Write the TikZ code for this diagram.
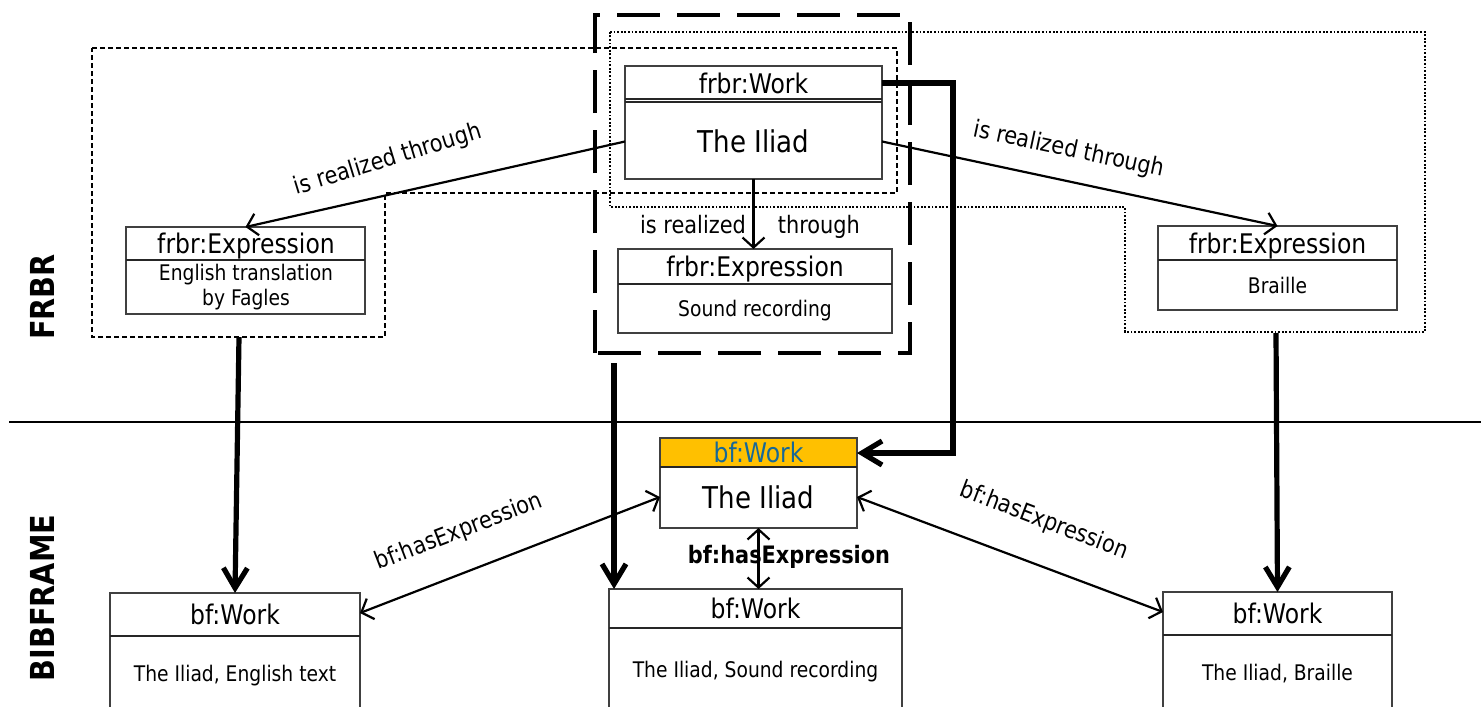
\documentclass[tikz,border=0pt]{standalone}
\usepackage{fontspec}
\setmainfont{DejaVu Sans}[FakeStretch=0.87]
\usetikzlibrary{arrows.meta}
\definecolor{hdrgold}{RGB}{255,192,0}
\definecolor{hdrblue}{RGB}{22,104,152}
\begin{document}
\begin{tikzpicture}[x=1pt,y=-1pt,
  ubox/.style={draw=black!75, line width=1.3pt, fill=white, rectangle, inner sep=0pt, outer sep=0pt, anchor=north west},
  divline/.style={draw=black!85, line width=1.3pt},
  hdrtxt/.style={font=\fontsize{27}{30}\selectfont, inner sep=0pt, text height=19.5pt, text depth=0pt},
  bigtxt/.style={font=\fontsize{30}{34}\selectfont, inner sep=0pt, text height=22pt, text depth=0pt},
  smalltxt/.style={font=\fontsize{21.5}{25}\selectfont, inner sep=0pt, text height=15.6pt, text depth=0pt},
  lbltxt/.style={font=\fontsize{24}{28}\selectfont, inner sep=0pt},
  sidetxt/.style={font=\fontsize{33}{36}\selectfont\bfseries, inner sep=0pt, rotate=90},
  thinarrow/.style={line width=2.2pt, -{Straight Barb[length=10pt,width=22pt]}},
  dblarrow/.style={line width=2.2pt, {Straight Barb[length=10pt,width=22pt]}-{Straight Barb[length=10pt,width=22pt]}},
  bigarrow/.style={line width=5.2pt, -{Straight Barb[length=20pt,width=24pt]}},
  smalldash/.style={line width=2pt, dash pattern=on 5pt off 3pt},
  dotbox/.style={line width=2.2pt, dash pattern=on 1.8pt off 1.8pt},
  bigdash/.style={line width=4.5pt, dash pattern=on 43pt off 17pt}
]
\useasboundingbox (0,0) rectangle (1481,707);
\clip (0,0) rectangle (1481,707);

% separator and side labels
\draw[line width=2pt] (9,422) -- (1481,422);
\node[sidetxt] (frbrlbl) at (42,297) {FRBR};
\node[sidetxt] (bflbl) at (42,598) {BIBFRAME};

% containers
\draw[smalldash] (92,48) -- (897,48) -- (897,193) -- (385,193) -- (385,337) -- (92,337) -- cycle;
\draw[dotbox] (610,32) -- (1425,32) -- (1425,332) -- (1125,332) -- (1125,207) -- (610,207) -- cycle;
\draw[bigdash] (595,353) -- (595,15) -- (910,15) -- (910,353) -- cycle;

% FRBR boxes
\node[ubox, minimum width=257pt, minimum height=113pt] (fw) at (625,66) {};
\draw[divline] ([yshift=-33pt]fw.north west) -- ([yshift=-33pt]fw.north east);
\draw[divline] ([yshift=-36pt]fw.north west) -- ([yshift=-36pt]fw.north east);
\node[hdrtxt] (fwh) at (753.5,84) {frbr:Work};
\node[bigtxt] (fwb) at (753.5,141) {The Iliad};

\node[ubox, minimum width=239pt, minimum height=87pt] (eL) at (126,227) {};
\draw[divline] ([yshift=-33pt]eL.north west) -- ([yshift=-33pt]eL.north east);
\node[hdrtxt] (eLh) at (246,244) {frbr:Expression};
\node[font=\fontsize{21.5}{25}\selectfont, inner sep=0pt, align=center] (eLb) at (246,287) {English translation\\by Fagles};

\node[ubox, minimum width=274pt, minimum height=84pt] (eM) at (618,249) {};
\draw[divline] ([yshift=-35pt]eM.north west) -- ([yshift=-35pt]eM.north east);
\node[hdrtxt] (eMh) at (755,267) {frbr:Expression};
\node[smalltxt] (eMb) at (755,309) {Sound recording};

\node[ubox, minimum width=239pt, minimum height=84pt] (eR) at (1158,226) {};
\draw[divline] ([yshift=-34pt]eR.north west) -- ([yshift=-34pt]eR.north east);
\node[hdrtxt] (eRh) at (1277.5,244) {frbr:Expression};
\node[smalltxt] (eRb) at (1277.5,286) {Braille};

% BIBFRAME boxes
\node[ubox, minimum width=197pt, minimum height=90pt,
  path picture={\fill[hdrgold] (path picture bounding box.north west) rectangle ([yshift=-29pt]path picture bounding box.north east);}] (bw) at (660,438) {};
\draw[divline] ([yshift=-29pt]bw.north west) -- ([yshift=-29pt]bw.north east);
\node[hdrtxt, text=hdrblue] (bwh) at (758.5,453) {bf:Work};
\node[bigtxt] (bwb) at (758.5,497) {The Iliad};

\node[ubox, minimum width=250pt, minimum height=125pt] (bL) at (110,593) {};
\draw[divline] ([yshift=-43pt]bL.north west) -- ([yshift=-43pt]bL.north east);
\node[hdrtxt] (bLh) at (235,615) {bf:Work};
\node[smalltxt] (bLb) at (235,674) {The Iliad, English text};

\node[ubox, minimum width=293pt, minimum height=125pt] (bM) at (609,589) {};
\draw[divline] ([yshift=-39pt]bM.north west) -- ([yshift=-39pt]bM.north east);
\node[hdrtxt] (bMh) at (755.5,609) {bf:Work};
\node[smalltxt] (bMb) at (755.5,670) {The Iliad, Sound recording};

\node[ubox, minimum width=229pt, minimum height=125pt] (bR) at (1163,592) {};
\draw[divline] ([yshift=-43pt]bR.north west) -- ([yshift=-43pt]bR.north east);
\node[hdrtxt] (bRh) at (1277.5,614) {bf:Work};
\node[smalltxt] (bRb) at (1277.5,673) {The Iliad, Braille};

% is realized through
\draw[thinarrow] ([yshift=-19pt]fw.west) -- (eL.north);
\draw[thinarrow] ([yshift=-19pt]fw.east) -- (eR.north);
\draw[thinarrow] (fw.south) -- (fw.south |- eM.north);
\node[lbltxt, rotate=17] (lblL) at (388,160) {is realized through};
\node[lbltxt, rotate=-12] (lblR) at (1069,150) {is realized through};
\node[lbltxt] (lblM) at (750,227) {is realized\hspace{32pt}through};

% thick mapping arrows
\coordinate (lstart) at (239,337);
\coordinate (mstart) at (614,363);
\coordinate (rstart) at (1276,333);
\draw[bigarrow] (lstart) -- (bL.north);
\draw[bigarrow] (mstart) -- ([xshift=5pt]bM.north west);
\draw[bigarrow] (rstart) -- (bR.north);
\draw[bigarrow] ([yshift=-17pt]fw.north east) -- (953,83) -- (953,453) -- ([yshift=-15pt]bw.north east);

% hasExpression
\draw[dblarrow] ([yshift=-14pt]bw.west) -- ([yshift=-20pt]bL.north east);
\draw[dblarrow] ([yshift=-14pt]bw.east) -- ([yshift=-20pt]bR.north west);
\draw[dblarrow] (bw.south) -- (bw.south |- bM.north);
\node[lbltxt, rotate=21] (hL) at (459,532) {bf:hasExpression};
\node[lbltxt, rotate=-21] (hR) at (1044,521) {bf:hasExpression};
\node[lbltxt, font=\fontsize{24}{28}\selectfont\bfseries] (hM) at (789,557) {bf:hasExpression};
\end{tikzpicture}
\end{document}
